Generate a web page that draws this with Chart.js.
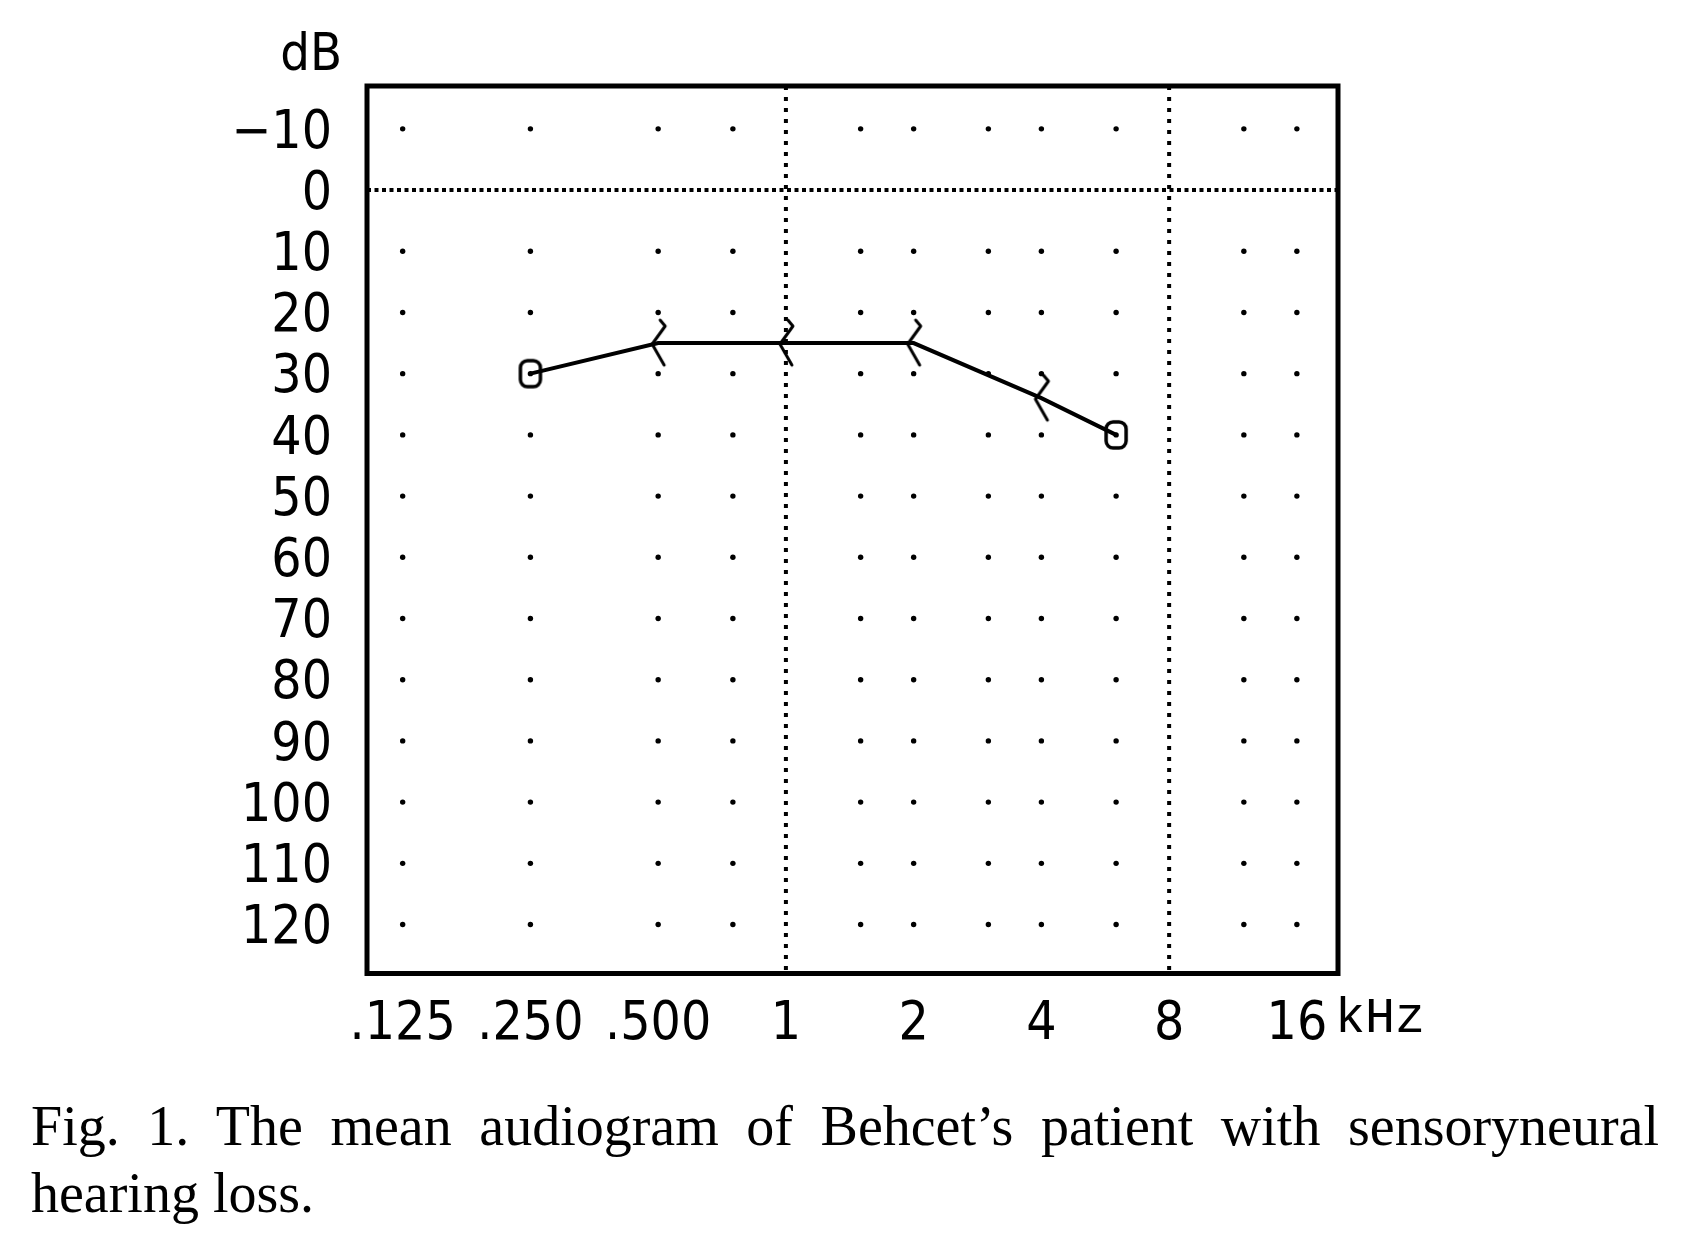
<!DOCTYPE html>
<html>
<head>
<meta charset="utf-8">
<script src="https://cdn.jsdelivr.net/npm/chart.js@4.4.1/dist/chart.umd.min.js"></script>
<style>
  html, body { margin: 0; padding: 0; background: #fff; }
  body { width: 1688px; height: 1260px; position: relative; overflow: hidden; }
  #wrap { position: absolute; left: 0; top: 0; width: 1688px; height: 1080px; }
  #caption {
    position: absolute; left: 31px; top: 1093px; width: 1628px;
    font-family: 'Liberation Serif', 'Times New Roman', serif;
    font-size: 56px; line-height: 67px; text-align: justify; color: #000;
  }
</style>
</head>
<body>
<div id="wrap"><canvas id="audiogram"></canvas></div>
<div id="caption">Fig. 1. The mean audiogram of Behcet’s patient with sensoryneural hearing loss.</div>
<script>
'use strict';

// mean audiogram: frequency (kHz), hearing level (dB), symbol
const freqs = [0.25, 0.5, 1, 2, 4, 6];
const levels = [30, 25, 25, 25, 34, 40];
const markers = ['o', '<', '<', '<', '<', 'o'];

// axis ticks
const xTicks = [0.125, 0.25, 0.5, 1, 2, 4, 8, 16];
const xTickLabels = ['.125', '.250', '.500', '1', '2', '4', '8', '16'];
const yTicks = [-10, 0, 10, 20, 30, 40, 50, 60, 70, 80, 90, 100, 110, 120];
const yTickLabels = ['−10', '0', '10', '20', '30', '40', '50', '60', '70', '80', '90', '100', '110', '120'];

// background dot grid
const dotFreqs = [0.125, 0.25, 0.5, 0.75, 1.5, 2, 3, 4, 6, 12, 16];
const dotLevels = [-10, 10, 20, 30, 40, 50, 60, 70, 80, 90, 100, 110, 120];

// dotted reference lines
const refFreqs = [1, 8];
const refLevels = [0];

const X_MIN = 0.103, X_MAX = 20;
const Y_MIN = -17, Y_MAX = 128;

const TICK_FONT = "'Liberation Sans Narrow', 'DejaVu Sans Condensed', 'Liberation Sans', sans-serif";

function makeBracket() {
    const c = document.createElement('canvas');
    c.width = 30; c.height = 52;
    const g = c.getContext('2d');
    g.strokeStyle = '#000';
    g.lineWidth = 3;
    g.lineJoin = 'round';
    g.lineCap = 'round';
    g.beginPath();
    g.moveTo(17, 3);
    g.lineTo(22, 9);
    g.lineTo(9, 27);
    g.lineTo(21, 48);
    g.stroke();
    return c;
}

function makeRing() {
    const c = document.createElement('canvas');
    c.width = 28; c.height = 32;
    const g = c.getContext('2d');
    g.strokeStyle = '#000';
    g.lineWidth = 3.5;
    g.beginPath();
    if (g.roundRect) g.roundRect(4, 3, 20, 26, 7);
    else g.ellipse(14, 16, 10, 13, 0, 0, Math.PI * 2);
    g.stroke();
    return c;
}

const glyphs = { '<': makeBracket(), 'o': makeRing() };

const dots = [];
dotFreqs.forEach(f => dotLevels.forEach(l => dots.push({ x: f, y: l })));

const refSets = [];
refFreqs.forEach(f => refSets.push({
    data: [{ x: f, y: Y_MIN }, { x: f, y: Y_MAX }],
    borderDash: [4, 7]
}));
refLevels.forEach(l => refSets.push({
    data: [{ x: X_MIN, y: l }, { x: X_MAX, y: l }],
    borderDash: [4, 3.5]
}));

const framePlugin = {
    id: 'frame',
    afterDraw(chart) {
        const { ctx, chartArea: a, scales } = chart;
        ctx.save();
        ctx.strokeStyle = '#000';
        ctx.lineWidth = 5;
        ctx.strokeRect(a.left, a.top, a.right - a.left, a.bottom - a.top);
        ctx.fillStyle = '#000';
        ctx.textBaseline = 'alphabetic';
        ctx.font = '52px ' + TICK_FONT;
        ctx.textAlign = 'right';
        ctx.fillText('dB', a.left - 25, a.top - 16);
        ctx.font = "50px 'Liberation Mono', 'Courier New', monospace";
        ctx.textAlign = 'left';
        ctx.fillText('kHz', scales.x.getPixelForValue(16) + 38, a.bottom + 58);
        ctx.restore();
    }
};

new Chart(document.getElementById('audiogram'), {
    type: 'line',
    data: {
        datasets: [
            {
                label: 'mean',
                data: freqs.map((f, i) => ({ x: f, y: levels[i] })),
                borderColor: '#000',
                borderWidth: 4,
                pointStyle: ctx => glyphs[markers[ctx.dataIndex]],
                pointRadius: 6,
                tension: 0,
                clip: false,
                order: 0
            },
            ...refSets.map(s => ({
                data: s.data,
                borderColor: '#000',
                borderWidth: 4,
                borderDash: s.borderDash,
                borderCapStyle: 'butt',
                pointRadius: 0,
                order: 1
            })),
            {
                type: 'scatter',
                data: dots,
                backgroundColor: '#000',
                borderWidth: 0,
                pointRadius: 2.7,
                order: 2
            }
        ]
    },
    options: {
        responsive: true,
        maintainAspectRatio: false,
        animation: false,
        layout: { padding: { top: 86, right: 350, left: 0, bottom: 0 } },
        scales: {
            x: {
                type: 'logarithmic',
                min: X_MIN,
                max: X_MAX,
                bounds: 'data',
                afterBuildTicks: scale => { scale.ticks = xTicks.map(v => ({ value: v })); },
                afterFit: scale => { scale.height = 106.5; },
                grid: { display: false },
                border: { display: false },
                ticks: {
                    autoSkip: false,
                    maxRotation: 0,
                    padding: 17,
                    color: '#000',
                    font: { family: TICK_FONT, size: 53, lineHeight: 1 },
                    callback: (v, i) => xTickLabels[i]
                }
            },
            y: {
                type: 'linear',
                reverse: true,
                min: Y_MIN,
                max: Y_MAX,
                afterBuildTicks: scale => { scale.ticks = yTicks.map(v => ({ value: v })); },
                afterFit: scale => { scale.width = 367; },
                grid: { display: false },
                border: { display: false },
                ticks: {
                    autoSkip: false,
                    padding: 27,
                    labelOffset: 5,
                    color: '#000',
                    font: { family: TICK_FONT, size: 53, lineHeight: 1 },
                    callback: (v, i) => yTickLabels[i]
                }
            }
        },
        plugins: {
            legend: { display: false },
            tooltip: { enabled: false }
        }
    },
    plugins: [framePlugin]
});
</script>
</body>
</html>
